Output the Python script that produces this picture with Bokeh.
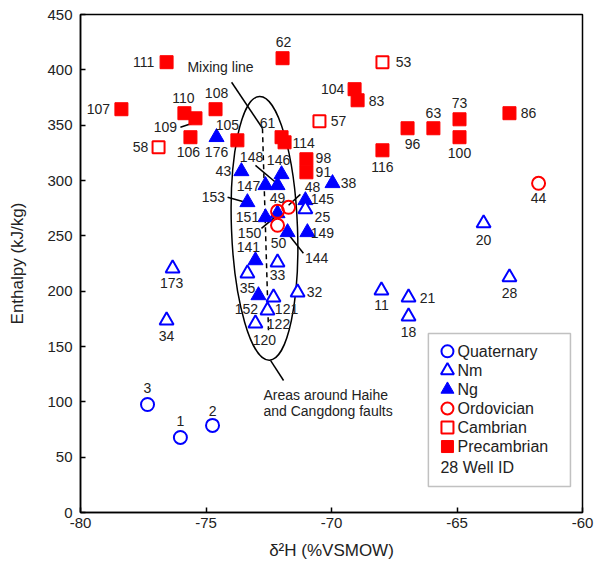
from bokeh.plotting import figure
from bokeh.models import Range1d, Label, FixedTicker, BoxAnnotation
from bokeh.core.properties import value
from bokeh.embed import file_html
from bokeh.resources import INLINE

FONT = "Liberation Sans"
RED = "#ff0000"
BLUE = "#0000ff"
TXT = "#222222"

# ---------------- data (delta2H, enthalpy) ----------------
pre_id = ["107", "111", "110", "109", "106", "108", "105", "62", "61", "114",
          "98", "91", "104", "83", "116", "96", "63", "73", "100", "86"]
pre_x = [-78.37, -76.57, -75.86, -75.42, -75.62, -74.62, -73.75, -71.95, -71.99, -71.87,
         -71.00, -71.00, -69.08, -68.96, -67.97, -66.97, -65.94, -64.90, -64.90, -62.91]
pre_y = [364.4, 406.9, 360.8, 356.2, 339.1, 364.4, 336.3, 410.5, 339.1, 334.5,
         319.2, 307.4, 382.5, 372.5, 327.3, 347.2, 347.2, 355.3, 339.1, 360.8]

cam_id = ["58", "57", "53"]
cam_x = [-76.89, -70.48, -67.97]
cam_y = [330.0, 353.5, 406.9]

ord_id = ["44", "48", "49", "50"]
ord_x = [-61.75, -71.71, -72.15, -72.15]
ord_y = [297.5, 275.8, 272.2, 259.5]

ng_id = ["176", "43", "147", "148", "146", "38", "153", "151", "150", "145",
         "149", "144", "141", "152"]
ng_x = [-74.58, -73.59, -72.63, -72.15, -71.99, -69.96, -73.35, -72.63, -72.15, -71.04,
        -70.96, -71.75, -73.03, -72.91]
ng_y = [339.1, 308.3, 295.7, 295.7, 305.6, 297.5, 280.3, 266.7, 270.3, 282.1,
        253.2, 253.2, 227.8, 196.2]

nm_id = ["173", "34", "35", "33", "121", "122", "120", "32", "25", "11",
         "21", "18", "20", "28"]
nm_x = [-76.33, -76.57, -73.35, -72.15, -72.31, -72.55, -73.03, -71.35, -71.04, -68.01,
        -66.93, -66.93, -63.94, -62.91]
nm_y = [220.6, 173.6, 216.1, 226.0, 194.4, 182.6, 170.9, 198.9, 274.0, 200.7,
        194.4, 177.2, 261.3, 212.5]

qua_id = ["3", "1", "2"]
qua_x = [-77.33, -76.02, -74.74]
qua_y = [97.6, 67.8, 78.7]

x_ticks = [-80, -75, -70, -65, -60]
x_tick_labels = ["-80", "-75", "-70", "-65", "-60"]
y_ticks = [0, 50, 100, 150, 200, 250, 300, 350, 400, 450]

legend_labels = ["Quaternary", "Nm", "Ng", "Ordovician", "Cambrian", "Precambrian"]
legend_note = "28 Well ID"

# ---------------- label placement (screen px offsets, +y = down) ----------------
label_off = {
    "107": (-23, 0), "111": (-23, 0), "110": (-1, -15), "109": (-30, 9), "106": (-2, 15),
    "108": (1, -16), "105": (-10, -15), "62": (1, -16), "61": (-14, -14), "114": (19, 1),
    "98": (17, -1), "91": (17, 0), "104": (-22, 0), "83": (19, 1), "116": (0, 17),
    "96": (5, 16), "63": (0, -15), "73": (0, -16), "100": (0, 16), "86": (19, 0),
    "58": (-18, 0), "57": (19, 0), "53": (21, 0),
    "44": (0, 15), "48": (24, -20), "49": (0, -13), "50": (1, 18),
    "176": (0, 15), "43": (-18, 0), "147": (-17, 1), "148": (-26, -28), "146": (-3, -14),
    "38": (16, 0), "153": (-34, -5), "151": (-18, 0), "150": (-28, 20), "145": (17, -1),
    "149": (15, 1), "144": (29, 26), "141": (-7, -13), "152": (-12, 14),
    "173": (-1, 15), "34": (0, 16), "35": (0, 15), "33": (0, 13), "121": (13, 12),
    "122": (11, 14), "120": (9, 17), "32": (17, 0), "25": (17, 8), "11": (0, 15),
    "21": (19, 1), "18": (0, 16), "20": (0, 17), "28": (0, 16),
    "3": (0, -16), "1": (0, -16), "2": (0, -14),
}

p = figure(width=596, height=571, x_range=Range1d(-80, -60), y_range=Range1d(0, 450),
           output_backend="svg", toolbar_location=None,
           min_border_left=80, min_border_right=14, min_border_top=14, min_border_bottom=59)
p.xgrid.visible = False
p.ygrid.visible = False
p.background_fill_color = "white"
p.border_fill_color = "white"
p.outline_line_color = "black"
p.outline_line_width = 1.5
p.outline_line_alpha = 1.0

p.xaxis.ticker = FixedTicker(ticks=x_ticks)
p.yaxis.ticker = FixedTicker(ticks=y_ticks)
p.xaxis.major_label_overrides = dict(zip(x_ticks, x_tick_labels))
for ax in (p.xaxis, p.yaxis):
    ax.major_tick_in = 5
    ax.major_tick_out = 0
    ax.minor_tick_in = 0
    ax.minor_tick_out = 0
    ax.axis_line_width = 1.5
    ax.axis_line_color = "black"
    ax.major_tick_line_width = 1.5
    ax.major_tick_line_color = "black"
    ax.major_label_text_font = FONT
    ax.major_label_text_font_size = "15px"
    ax.major_label_text_color = TXT
    ax.axis_label_text_font = FONT
    ax.axis_label_text_font_size = "17px"
    ax.axis_label_text_font_style = "normal"
    ax.axis_label_text_color = TXT
p.xaxis.axis_label = "δ²H (%VSMOW)"
p.yaxis.axis_label = "Enthalpy (kJ/kg)"
p.yaxis.major_label_standoff = 8
p.xaxis.major_label_standoff = 5
p.yaxis.axis_label_standoff = 17
p.xaxis.axis_label_standoff = 10

# ---------------- ellipse, mixing line, leaders ----------------
p.ellipse(x=[-72.67], y=[256.8], width=[66], height=[264], width_units="screen",
          height_units="screen", angle=0.038, fill_color=None, line_color="black", line_width=1.5)
p.line(x=[-72.75, -72.51], y=[347.2, 164.6], line_color="black", line_width=1.5, line_dash="5 4")

seg_x0 = [-73.98, -76.02, -73.03, -74.14, -72.79, -71.24, -71.75, -72.43]
seg_y0 = [388.8, 348.1, 313.7, 284.8, 256.8, 287.5, 252.3, 137.4]
seg_x1 = [-72.75, -75.54, -72.23, -73.43, -72.03, -71.71, -71.12, -71.91]
seg_y1 = [347.2, 351.7, 298.4, 280.3, 271.2, 277.6, 234.2, 119.3]
p.segment(x0=seg_x0, y0=seg_y0, x1=seg_x1, y1=seg_y1, line_color="black", line_width=1.5)

# ---------------- markers ----------------
styles = {
    "Precambrian": dict(marker="square", size=13, fill_color=RED, line_color=RED, line_width=1),
    "Cambrian": dict(marker="square", size=12, fill_color="white", line_color=RED, line_width=2),
    "Ng": dict(marker="triangle", size=15, fill_color=BLUE, line_color=BLUE, line_width=1),
    "Nm": dict(marker="triangle", size=14, fill_color="white", line_color=BLUE, line_width=2),
    "Ordovician": dict(marker="circle", size=13, fill_color=None, line_color=RED, line_width=2),
    "Quaternary": dict(marker="circle", size=13, fill_color=None, line_color=BLUE, line_width=2),
}
p.scatter(pre_x, pre_y, **styles["Precambrian"])
p.scatter(cam_x, cam_y, **styles["Cambrian"])
p.scatter(ng_x, ng_y, **styles["Ng"])
p.scatter(nm_x, nm_y, **styles["Nm"])
p.scatter(ord_x, ord_y, **styles["Ordovician"])
p.scatter(qua_x, qua_y, **styles["Quaternary"])

# ---------------- well ID labels ----------------
all_id = pre_id + cam_id + ord_id + ng_id + nm_id + qua_id
all_x = pre_x + cam_x + ord_x + ng_x + nm_x + qua_x
all_y = pre_y + cam_y + ord_y + ng_y + nm_y + qua_y
p.text(x=all_x, y=all_y, text=all_id,
       x_offset=[label_off[i][0] for i in all_id], y_offset=[label_off[i][1] for i in all_id],
       text_align="center", text_baseline="middle", text_font=value(FONT),
       text_font_size="14px", text_color=TXT)

# annotations
p.text(x=[-75.74], y=[402.4], text=["Mixing line"], text_align="left", text_baseline="middle",
       text_font=value(FONT), text_font_size="14px", text_color=TXT)
p.text(x=[-72.71, -72.71], y=[106.0, 92.0], text=["Areas around Haihe", "and Cangdong faults"],
       text_align="left", text_baseline="middle",
       text_font=value(FONT), text_font_size="14px", text_color=TXT)

# ---------------- legend (drawn as a key box) ----------------
p.add_layout(BoxAnnotation(left=-66.14, right=-60.48, bottom=23.5, top=161.8,
                           fill_color="white", fill_alpha=1.0, line_color="#333333",
                           line_width=1.5, level="annotation"))
key_x = -65.38
text_x = -64.98
key_top = 145.6
key_step = 17.2
for i, name in enumerate(legend_labels):
    ky = key_top - i * key_step
    st = dict(styles[name])
    if st["marker"] == "triangle":
        st["size"] = 13
    else:
        st["size"] = 12
    p.scatter([key_x], [ky], level="overlay", **st)
    p.add_layout(Label(x=text_x, y=ky, text=name, text_font=FONT, text_font_size="16px",
                       text_color=TXT, text_baseline="middle", text_align="left", level="overlay"))
p.add_layout(Label(x=key_x - 0.28, y=key_top - len(legend_labels) * key_step - 1.5, text=legend_note,
                   text_font=FONT, text_font_size="16px", text_color=TXT,
                   text_baseline="middle", text_align="left", level="overlay"))

open("out.html", "w").write(file_html(p, INLINE))
